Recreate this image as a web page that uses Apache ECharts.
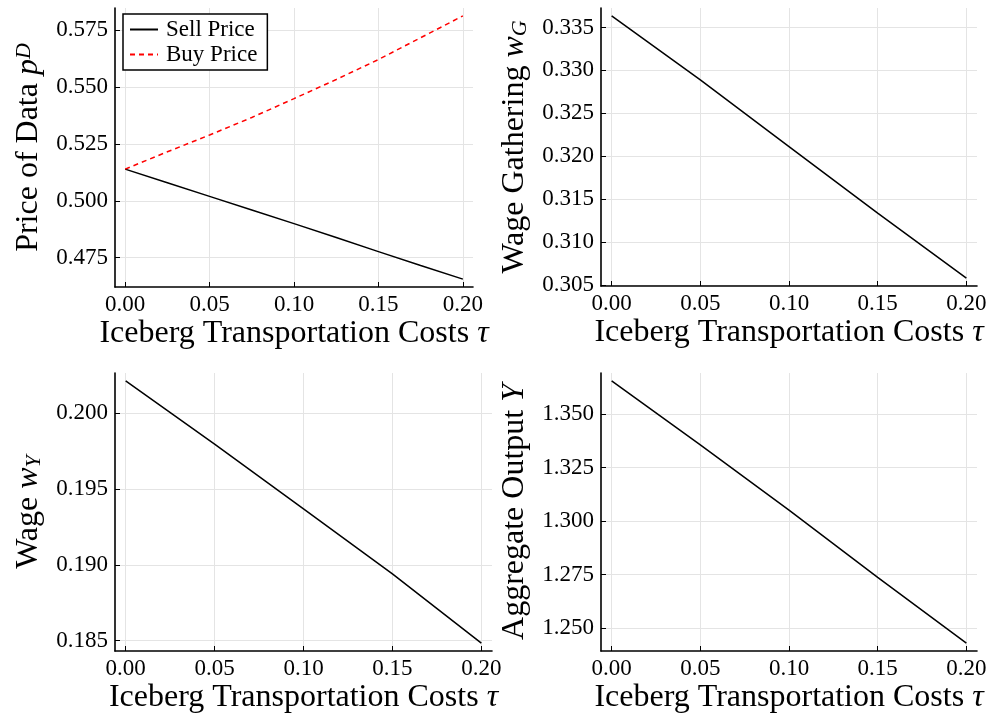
<!DOCTYPE html>
<html><head><meta charset="utf-8">
<script src="https://cdn.jsdelivr.net/npm/echarts@6/dist/echarts.min.js"></script>
<style>html,body{margin:0;padding:0;background:#fff}#c{width:993px;height:717px}</style>
</head><body><div id="c"></div>
<script>
// ---- data ----
const tauFine = [0, 0.025, 0.05, 0.075, 0.1, 0.125, 0.15, 0.175, 0.2];
const sellPrice = [0.5140, 0.5080, 0.5020, 0.4960, 0.4900, 0.4839, 0.4777, 0.4716, 0.4656];
const buyPrice  = [0.5140, 0.5216, 0.5290, 0.5367, 0.5450, 0.5534, 0.5622, 0.5718, 0.5814];
const tau = [0, 0.05, 0.1, 0.15, 0.2];
const wageGathering = [0.33635, 0.3289, 0.32112, 0.31337, 0.3058];
const wageY = [0.20215, 0.19798, 0.1937, 0.18941, 0.18484];
const outputY = [1.3655, 1.3356, 1.3051, 1.2737, 1.2430];
const xTicks = [0, 0.05, 0.10, 0.15, 0.20];
const yTicksPrice = [0.475, 0.500, 0.525, 0.550, 0.575];
const yTicksWG = [0.305, 0.310, 0.315, 0.320, 0.325, 0.330, 0.335];
const yTicksWY = [0.185, 0.190, 0.195, 0.200];
const yTicksY = [1.250, 1.275, 1.300, 1.325, 1.350];

const FONT = 'Liberation Serif';
function ext(...arrs) {
  const all = [].concat(...arrs);
  const lo = Math.min(...all), hi = Math.max(...all);
  const m = (hi - lo) * 0.03;
  return [lo - m, hi + m];
}
const xr = ext(tau);
function zip(xs, ys) { return xs.map((x, i) => [x, ys[i]]); }

const grids = [
  {left: 115, top: 8, width: 358, height: 279},
  {left: 601, top: 8, width: 376, height: 278},
  {left: 115, top: 373, width: 377, height: 278},
  {left: 601, top: 373, width: 376, height: 278}
];
const axLine = {show: true, onZero: false, lineStyle: {color: '#000', width: 1.6}};
const split = {show: true, lineStyle: {color: '#e4e4e4', width: 1}};
const richBase = {
  t: {fontFamily: FONT, fontSize: 32, color: '#000'},
  i: {fontFamily: FONT, fontSize: 32, color: '#000', fontStyle: 'italic'},
  sup: {fontFamily: FONT, fontSize: 22, color: '#000', fontStyle: 'italic', verticalAlign: 'top'},
  sub: {fontFamily: FONT, fontSize: 22, color: '#000', fontStyle: 'italic', verticalAlign: 'bottom'}
};
function xAxis(g) {
  return {
    type: 'value', gridIndex: g, min: xr[0], max: xr[1],
    axisLine: axLine,
    axisTick: {show: true, inside: true, length: 5, customValues: xTicks, lineStyle: {color: '#000', width: 1}},
    axisLabel: {customValues: xTicks, formatter: v => v.toFixed(2), fontFamily: FONT, fontSize: 23, color: '#000', margin: 6},
    splitLine: split,
    name: '{t|Iceberg Transportation Costs }{i|τ}', nameLocation: 'middle', nameGap: 31,
    nameTextStyle: {rich: richBase}
  };
}
function yAxis(g, ticks, r, dec, name) {
  return {
    type: 'value', gridIndex: g, min: r[0], max: r[1],
    axisLine: axLine,
    axisTick: {show: true, inside: true, length: 5, customValues: ticks, lineStyle: {color: '#000', width: 1}},
    axisLabel: {customValues: ticks, formatter: v => v.toFixed(dec), fontFamily: FONT, fontSize: 23, color: '#000', margin: 7},
    splitLine: split,
    name: name, nameLocation: 'middle', nameRotate: 90, nameGap: 70,
    nameTextStyle: {rich: richBase}
  };
}
const lineBase = {type: 'line', symbol: 'none', showSymbol: false, animation: false};
const option = {
  animation: false,
  backgroundColor: '#fff',
  grid: grids,
  xAxis: [xAxis(0), xAxis(1), xAxis(2), xAxis(3)],
  yAxis: [
    yAxis(0, yTicksPrice, ext(sellPrice, buyPrice), 3, '{t|Price of Data }{i|p}{sup|D}'),
    yAxis(1, yTicksWG, ext(wageGathering), 3, '{t|Wage Gathering }{i|w}{sub|G}'),
    yAxis(2, yTicksWY, ext(wageY), 3, '{t|Wage }{i|w}{sub|Y}'),
    yAxis(3, yTicksY, ext(outputY), 3, '{t|Aggregate Output }{i|Y}')
  ],
  legend: {
    show: true, left: 123, top: 14, orient: 'vertical',
    data: ['Sell Price', 'Buy Price'],
    itemWidth: 28, itemHeight: 14, itemGap: 2,
    padding: [4, 10, 4, 6],
    borderColor: '#000', borderWidth: 1.5, backgroundColor: '#fff',
    itemStyle: {color: 'transparent', borderWidth: 0, opacity: 0},
    textStyle: {fontFamily: FONT, fontSize: 23, color: '#000', padding: [0, 0, 0, 3]}
  },
  series: [
    Object.assign({}, lineBase, {name: 'Sell Price', xAxisIndex: 0, yAxisIndex: 0, data: zip(tauFine, sellPrice), lineStyle: {color: '#000', width: 1.5}, itemStyle: {color: '#000'}}),
    Object.assign({}, lineBase, {name: 'Buy Price', xAxisIndex: 0, yAxisIndex: 0, data: zip(tauFine, buyPrice), lineStyle: {color: '#ff0000', width: 1.5, type: [5, 4]}, itemStyle: {color: '#ff0000'}}),
    Object.assign({}, lineBase, {name: 'wG', xAxisIndex: 1, yAxisIndex: 1, data: zip(tau, wageGathering), lineStyle: {color: '#000', width: 1.5}, itemStyle: {color: '#000'}}),
    Object.assign({}, lineBase, {name: 'wY', xAxisIndex: 2, yAxisIndex: 2, data: zip(tau, wageY), lineStyle: {color: '#000', width: 1.5}, itemStyle: {color: '#000'}}),
    Object.assign({}, lineBase, {name: 'Y', xAxisIndex: 3, yAxisIndex: 3, data: zip(tau, outputY), lineStyle: {color: '#000', width: 1.5}, itemStyle: {color: '#000'}})
  ]
};
const chart = echarts.init(document.getElementById('c'), null, {renderer: 'canvas'});
chart.setOption(option);
</script>
</body></html>
